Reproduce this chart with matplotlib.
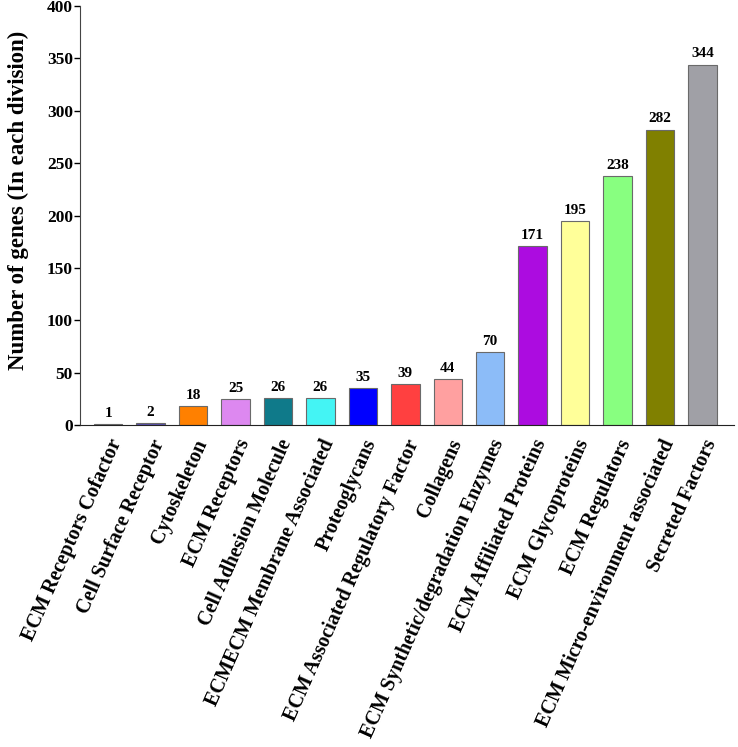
import matplotlib.pyplot as plt
import matplotlib.transforms as mtransforms
import numpy as np

plt.rcParams['font.family'] = ['Liberation Serif', 'DejaVu Serif']
plt.rcParams['font.weight'] = 'bold'

# data
categories = ["ECM Receptors Cofactor", "Cell Surface Receptor", "Cytoskeleton",
              "ECM Receptors", "Cell Adhesion Molecule", "ECMECM Membrane Associated",
              "Proteoglycans", "ECM Associated Regulatory Factor", "Collagens",
              "ECM Synthetic/degradation Enzymes", "ECM Affiliated Proteins",
              "ECM Glycoproteins", "ECM Regulators", "ECM Micro-environment associated",
              "Secreted Factors"]
counts = [1, 2, 18, 25, 26, 26, 35, 39, 44, 70, 171, 195, 238, 282, 344]
colors = ["#1c1c3c", "#5a4fb0", "#ff8000", "#dd88f0", "#0f7a8a", "#44f4f4",
          "#0000ff", "#ff4040", "#ffa0a0", "#8cbcf8", "#ac0ce0", "#ffff99",
          "#88ff80", "#808000", "#a0a0a6"]

fig = plt.figure(figsize=(7.38, 7.47), dpi=100)
ax = fig.add_axes([0.108, 0.431, 0.887, 0.561])

x = np.arange(len(categories))
bars = ax.bar(x, counts, width=0.67, color=colors, edgecolor="#6a6a6a", linewidth=0.8)
for xi, v in zip(x, counts):
    ax.text(xi, v + 4, str(v), ha="center", va="bottom", fontsize=11, fontweight="bold")

ax.set_ylim(0, 400)
ax.set_xlim(-0.67, 14.75)
ax.set_yticks(np.arange(0, 401, 50))
ax.set_xticks(x)
ax.set_xticklabels(categories, rotation=66, ha="right", va="top",
                   rotation_mode="anchor", fontsize=14.5, fontweight="bold")
# labels sit a little right of the bar centres
shift = mtransforms.ScaledTranslation(5 / 100, 0, fig.dpi_scale_trans)
for lab in ax.get_xticklabels():
    lab.set_transform(lab.get_transform() + shift)
ax.tick_params(axis="x", length=0, pad=8)
ax.tick_params(axis="y", labelsize=12.5, length=4, width=1, direction="out", pad=1)
for lab in ax.get_yticklabels():
    lab.set_fontweight("bold")

ax.spines["top"].set_visible(False)
ax.spines["right"].set_visible(False)
ax.spines["left"].set_color("#444444")
ax.spines["bottom"].set_color("#222222")
ax.set_ylabel("Number of genes (In each division)", fontsize=16.5, fontweight="bold")
ax.yaxis.set_label_coords(-0.078, 0.537)

fig.savefig("out.png", dpi=100)
